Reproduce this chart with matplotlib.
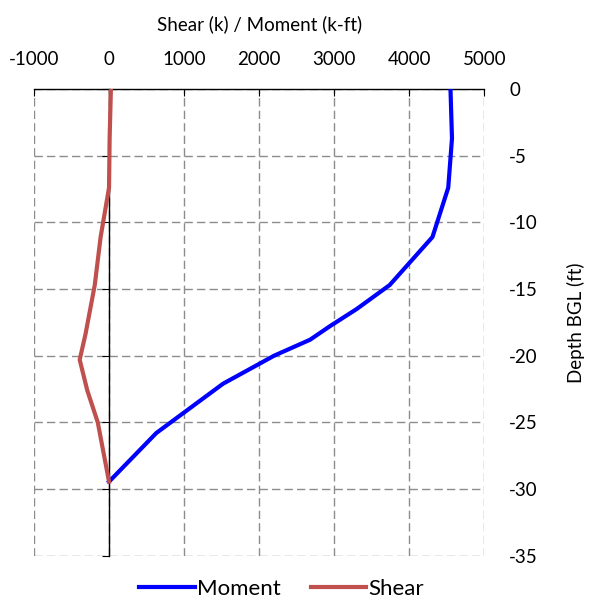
import matplotlib.pyplot as plt

plt.rcParams['font.family'] = ['Lato', 'DejaVu Sans']
plt.rcParams['axes.unicode_minus'] = False

# depth below ground level (ft) and the two diagrams
moment_depth = [0, -3.7, -7.4, -11.1, -14.7, -16.5, -17.8, -18.8, -20.0, -22.1, -25.8, -29.45]
moment = [4550, 4570, 4520, 4310, 3740, 3300, 2940, 2680, 2200, 1520, 630, 0]

shear_depth = [0, -3.7, -7.4, -11.1, -14.7, -18.4, -20.3, -22.6, -25.0, -29.45]
shear = [25, 8, 0, -112, -190, -314, -391, -290, -150, 0]

x_ticks = [-1000, 0, 1000, 2000, 3000, 4000, 5000]
y_ticks = [0, -5, -10, -15, -20, -25, -30, -35]

fig = plt.figure(figsize=(5.92, 6.04), dpi=100)
ax = fig.add_axes([0.0574, 0.08, 0.7606, 0.7726])

ax.plot(moment, moment_depth, color="#0000FF", lw=3, label="Moment",
        solid_joinstyle="round", zorder=3)
ax.plot(shear, shear_depth, color="#C0504D", lw=3, label="Shear",
        solid_joinstyle="round", zorder=3)

ax.set_xlim(-1000, 5000)
ax.set_ylim(-35, 0)
ax.set_xticks(x_ticks)
ax.set_yticks(y_ticks)
ax.grid(True, color="#8c8c8c", linestyle=(0, (6, 3)), lw=1)
ax.set_axisbelow(True)

for s in ["right", "bottom"]:
    ax.spines[s].set_visible(False)
ax.spines["left"].set_position(("data", 0))
ax.spines["left"].set_linewidth(1)
ax.spines["top"].set_linewidth(1)

ax.xaxis.tick_top()
ax.xaxis.set_label_position("top")
ax.tick_params(axis="x", direction="in", length=5, labelsize=13.5, pad=15)
ax.tick_params(axis="y", left=True, right=False, labelleft=False, labelright=True,
               direction="out", length=5, labelsize=13.5, pad=13)
for lab in ax.get_yticklabels():
    lab.set_horizontalalignment("left")

ax.set_xlabel("Shear (k) / Moment (k-ft)", fontsize=13.5, labelpad=15)
ax.yaxis.set_label_position("right")
ax.set_ylabel("Depth BGL (ft)", fontsize=13.5, labelpad=21)

fig.legend(loc="center", bbox_to_anchor=(0.4755, 0.025), ncol=2, frameon=False,
           fontsize=16, handlelength=2.5, handletextpad=0.1, columnspacing=1.35)

fig.savefig("out.png", dpi=100)
